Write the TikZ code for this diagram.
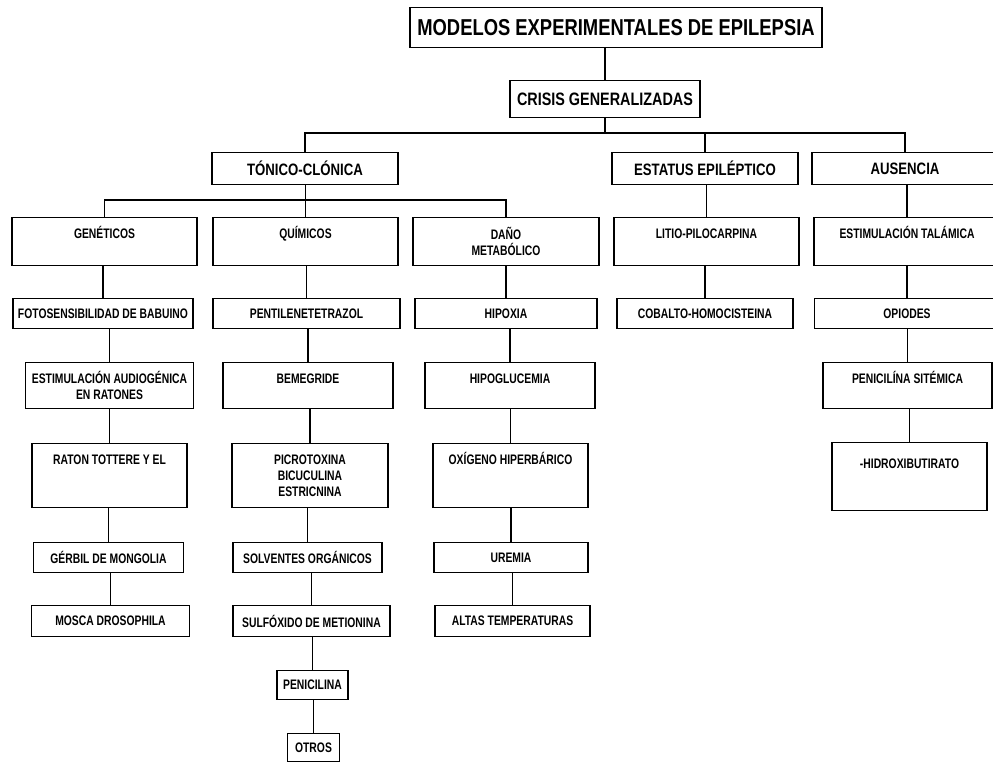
\documentclass[tikz,border=0pt]{standalone}
\usepackage{fontspec}
\newfontfamily\diagfont[FakeStretch=0.8]{Liberation Sans}
\newfontfamily\chicafont[FakeStretch=0.75]{Liberation Sans}

\tikzset{
  caja/.style={draw, line width=1.2pt, inner sep=0pt, anchor=north, align=center},
  chica/.style={caja, font=\chicafont\bfseries\fontsize{13.8}{16}\selectfont},
  media/.style={caja, font=\diagfont\bfseries\fontsize{16.5}{19}\selectfont, minimum width=186pt, minimum height=32pt},
  arriba/.style 2 args={text height=#1, text depth=#2},
  linea/.style={line width=1.5pt}
}

\begin{document}
\begin{tikzpicture}[x=1pt, y=-1pt]
  \useasboundingbox (0,0) rectangle (993,762);

  % titulo y crisis generalizadas
  \node[caja, font=\diagfont\bfseries\fontsize{23}{26}\selectfont, minimum width=412pt, minimum height=40pt] (mod) at (616,7) {MODELOS EXPERIMENTALES DE EPILEPSIA};
  \node[caja, font=\diagfont\bfseries\fontsize{18}{20}\selectfont, minimum width=190pt, minimum height=37pt] (cri) at (605,80) {CRISIS GENERALIZADAS};

  % tipos de crisis
  \node[media] (ton) at (305,152) {TÓNICO-CLÓNICA};
  \node[media] (est) at (705,152) {ESTATUS EPILÉPTICO};
  \node[media] (aus) at (905,152) {AUSENCIA};

  % primera fila
  \node[chica, arriba={20.5pt}{27.5pt}, minimum width=185pt] (gen) at (104.5,217) {GENÉTICOS};
  \node[chica, arriba={20.5pt}{27.5pt}, minimum width=185pt] (qui) at (305.5,217) {QUÍMICOS};
  \node[chica, minimum width=186pt, minimum height=48pt] (dan) at (506,217) {DAÑO\\METABÓLICO};
  \node[chica, arriba={20.5pt}{27.5pt}, minimum width=185pt] (lit) at (706.5,217) {LITIO-PILOCARPINA};
  \node[chica, arriba={20.5pt}{27.5pt}, minimum width=186pt] (tal) at (907,217) {ESTIMULACIÓN TALÁMICA};

  % segunda fila
  \node[chica, minimum width=180pt, minimum height=30pt] (foto) at (103,298) {FOTOSENSIBILIDAD DE BABUINO};
  \node[chica, minimum width=187pt, minimum height=30pt] (pen) at (306.5,298) {PENTILENETETRAZOL};
  \node[chica, minimum width=182pt, minimum height=30pt] (hip) at (506,298) {HIPOXIA};
  \node[chica, minimum width=176pt, minimum height=30pt] (cob) at (705,298) {COBALTO-HOMOCISTEINA};
  \node[chica, minimum width=185pt, minimum height=30pt] (opi) at (907,298) {OPIODES};

  % tercera fila
  \node[chica, minimum width=168pt, minimum height=46pt] (aud) at (109.5,362) {ESTIMULACIÓN AUDIOGÉNICA\\EN RATONES};
  \node[chica, arriba={20.5pt}{25.5pt}, minimum width=170pt] (bem) at (308,362) {BEMEGRIDE};
  \node[chica, arriba={20.5pt}{25.5pt}, minimum width=170pt] (hgl) at (510,362) {HIPOGLUCEMIA};
  \node[chica, arriba={20.5pt}{25.5pt}, minimum width=169pt] (pens) at (907.5,362) {PENICILÍNA SITÉMICA};

  % cuarta fila
  \node[chica, arriba={20.5pt}{43.5pt}, minimum width=155pt] (rat) at (109.5,443) {RATON TOTTERE Y EL};
  \node[chica, minimum width=156pt, minimum height=64pt] (pic) at (310,443) {PICROTOXINA\\BICUCULINA\\ESTRICNINA};
  \node[chica, arriba={20.5pt}{43.5pt}, minimum width=155pt] (oxi) at (510.5,443) {OXÍGENO HIPERBÁRICO};
  \node[chica, arriba={26pt}{42pt}, minimum width=155pt] (hid) at (909.5,442) {-HIDROXIBUTIRATO};

  % quinta y sexta fila
  \node[chica, minimum width=150pt, minimum height=30pt] (ger) at (108.5,542) {GÉRBIL DE MONGOLIA};
  \node[chica, minimum width=149pt, minimum height=30pt] (sol) at (307.5,542) {SOLVENTES ORGÁNICOS};
  \node[chica, minimum width=154pt, minimum height=30pt] (ure) at (511,542) {UREMIA};
  \node[chica, minimum width=158pt, minimum height=31pt] (mos) at (110.5,605) {MOSCA DROSOPHILA};
  \node[chica, minimum width=157pt, minimum height=31pt] (sul) at (311.5,605) {SULFÓXIDO DE METIONINA};
  \node[chica, minimum width=155pt, minimum height=31pt] (alt) at (512.5,605) {ALTAS TEMPERATURAS};

  % ultimas
  \node[chica, minimum width=71pt, minimum height=29pt] (penc) at (312.5,670) {PENICILINA};
  \node[chica, minimum width=52pt, minimum height=28pt] (otr) at (313.5,733) {OTROS};

  % conectores
  \coordinate (bus1) at (0,133);
  \coordinate (bus2) at (0,200);
  \draw[linea] (cri.south) -- (cri.south |- bus1);
  \draw[linea] (ton.north) |- (bus1 -| aus.north) -- (aus.north);
  \draw[linea] (est.north) -- (est.north |- bus1);
  \draw[linea] (gen.north) |- (bus2 -| dan.north) -- (dan.north);
  \foreach \a/\b in {mod/cri, ton/qui, est/lit, aus/tal,
                     gen/foto, foto/aud, aud/rat, rat/ger, ger/mos,
                     qui/pen, pen/bem, bem/pic, pic/sol, sol/sul, sul/penc, penc/otr,
                     dan/hip, hip/hgl, hgl/oxi, oxi/ure, ure/alt,
                     lit/cob, tal/opi, opi/pens, pens/hid}
    \draw[linea] (\b.north) -- (\b.north |- \a.south);
\end{tikzpicture}
\end{document}
